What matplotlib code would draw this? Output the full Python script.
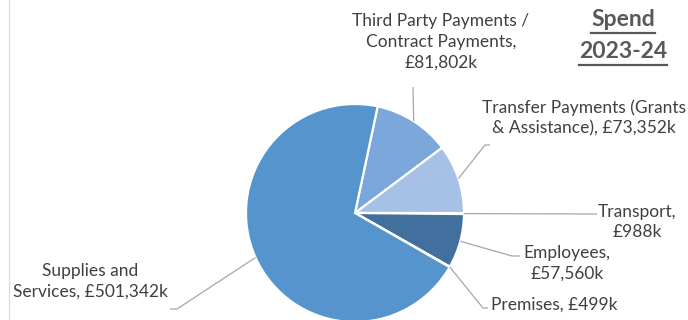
import numpy as np
import matplotlib.pyplot as plt
from matplotlib.lines import Line2D

plt.rcParams['font.family'] = ['Lato', 'DejaVu Sans']

# spend by category (£k), listed clockwise from the top of the pie
categories = ['Third Party Payments /\nContract Payments', 'Transfer Payments (Grants\n& Assistance)',
              'Transport', 'Employees', 'Premises', 'Supplies and\nServices']
values = [81802, 73352, 988, 57560, 499, 501342]
colors = ['#7BA7DA', '#A6C1E5', '#8FB2DF', '#41709E', '#6C9BD0', '#5694CE']

label_text = ['Third Party Payments /\nContract Payments,\n£{:,}k', 'Transfer Payments (Grants\n& Assistance), £{:,}k',
              'Transport,\n£{:,}k', 'Employees,\n£{:,}k', 'Premises, £{:,}k', 'Supplies and\nServices, £{:,}k']

# label anchor and leader line bend points, in pixels from the top-left
label_pos = [(441, 42, 'center'), (584, 118, 'center'), (637, 222, 'center'),
             (567, 263, 'center'), (491, 305, 'left'), (90, 281, 'center')]
leader_pts = [[(413, 87)], [(485, 145), (490, 145)], [(597, 214)],
              [(512, 256), (520, 256)], [(483, 308), (488, 308)], [(177, 309), (170, 309)]]

fig = plt.figure(figsize=(6.88, 3.2), dpi=100)
ax = fig.add_axes([0, 0, 1, 1])

cx, cy, r = 355, 213, 109
wedges, _ = ax.pie(values, colors=colors, startangle=-78, counterclock=True,
                   center=(cx, cy), radius=r,
                   wedgeprops=dict(edgecolor='white', linewidth=1.6))
ax.set_xlim(0, 688)
ax.set_ylim(320, 0)
ax.set_aspect('equal')
ax.axis('off')

txt_color = '#404040'
for w, v, fmt, pos, pts in zip(wedges, values, label_text, label_pos, leader_pts):
    mid = np.deg2rad((w.theta1 + w.theta2) / 2)
    start = (cx + r * np.cos(mid), cy + r * np.sin(mid))
    xs = [start[0]] + [p[0] for p in pts]
    ys = [start[1]] + [p[1] for p in pts]
    ax.plot(xs, ys, color='#A6A6A6', lw=0.9, solid_capstyle='butt')
    x, y, ha = pos
    ax.text(x, y, fmt.format(v), ha=ha, va='center', multialignment='center',
            fontsize=12.5, color=txt_color, linespacing=1.35)

# title with underline
title_color = '#595959'
fig.canvas.draw()
renderer = fig.canvas.get_renderer()
for s, y in [('Spend', 20), ('2023-24', 52)]:
    t = ax.text(623, y, s, ha='center', va='center', fontsize=16.5, fontweight='bold', color=title_color)
    bb = t.get_window_extent(renderer).transformed(ax.transData.inverted())
    yl = max(bb.y0, bb.y1) - 2
    ax.add_line(Line2D([bb.x0, bb.x1], [yl + 4, yl + 4], color=title_color, lw=1.6))

# thin frame line on the left
fig.add_artist(Line2D([8.5 / 688, 8.5 / 688], [0, 1], color='#D9D9D9', lw=0.8))

fig.savefig('out.png', dpi=100)
